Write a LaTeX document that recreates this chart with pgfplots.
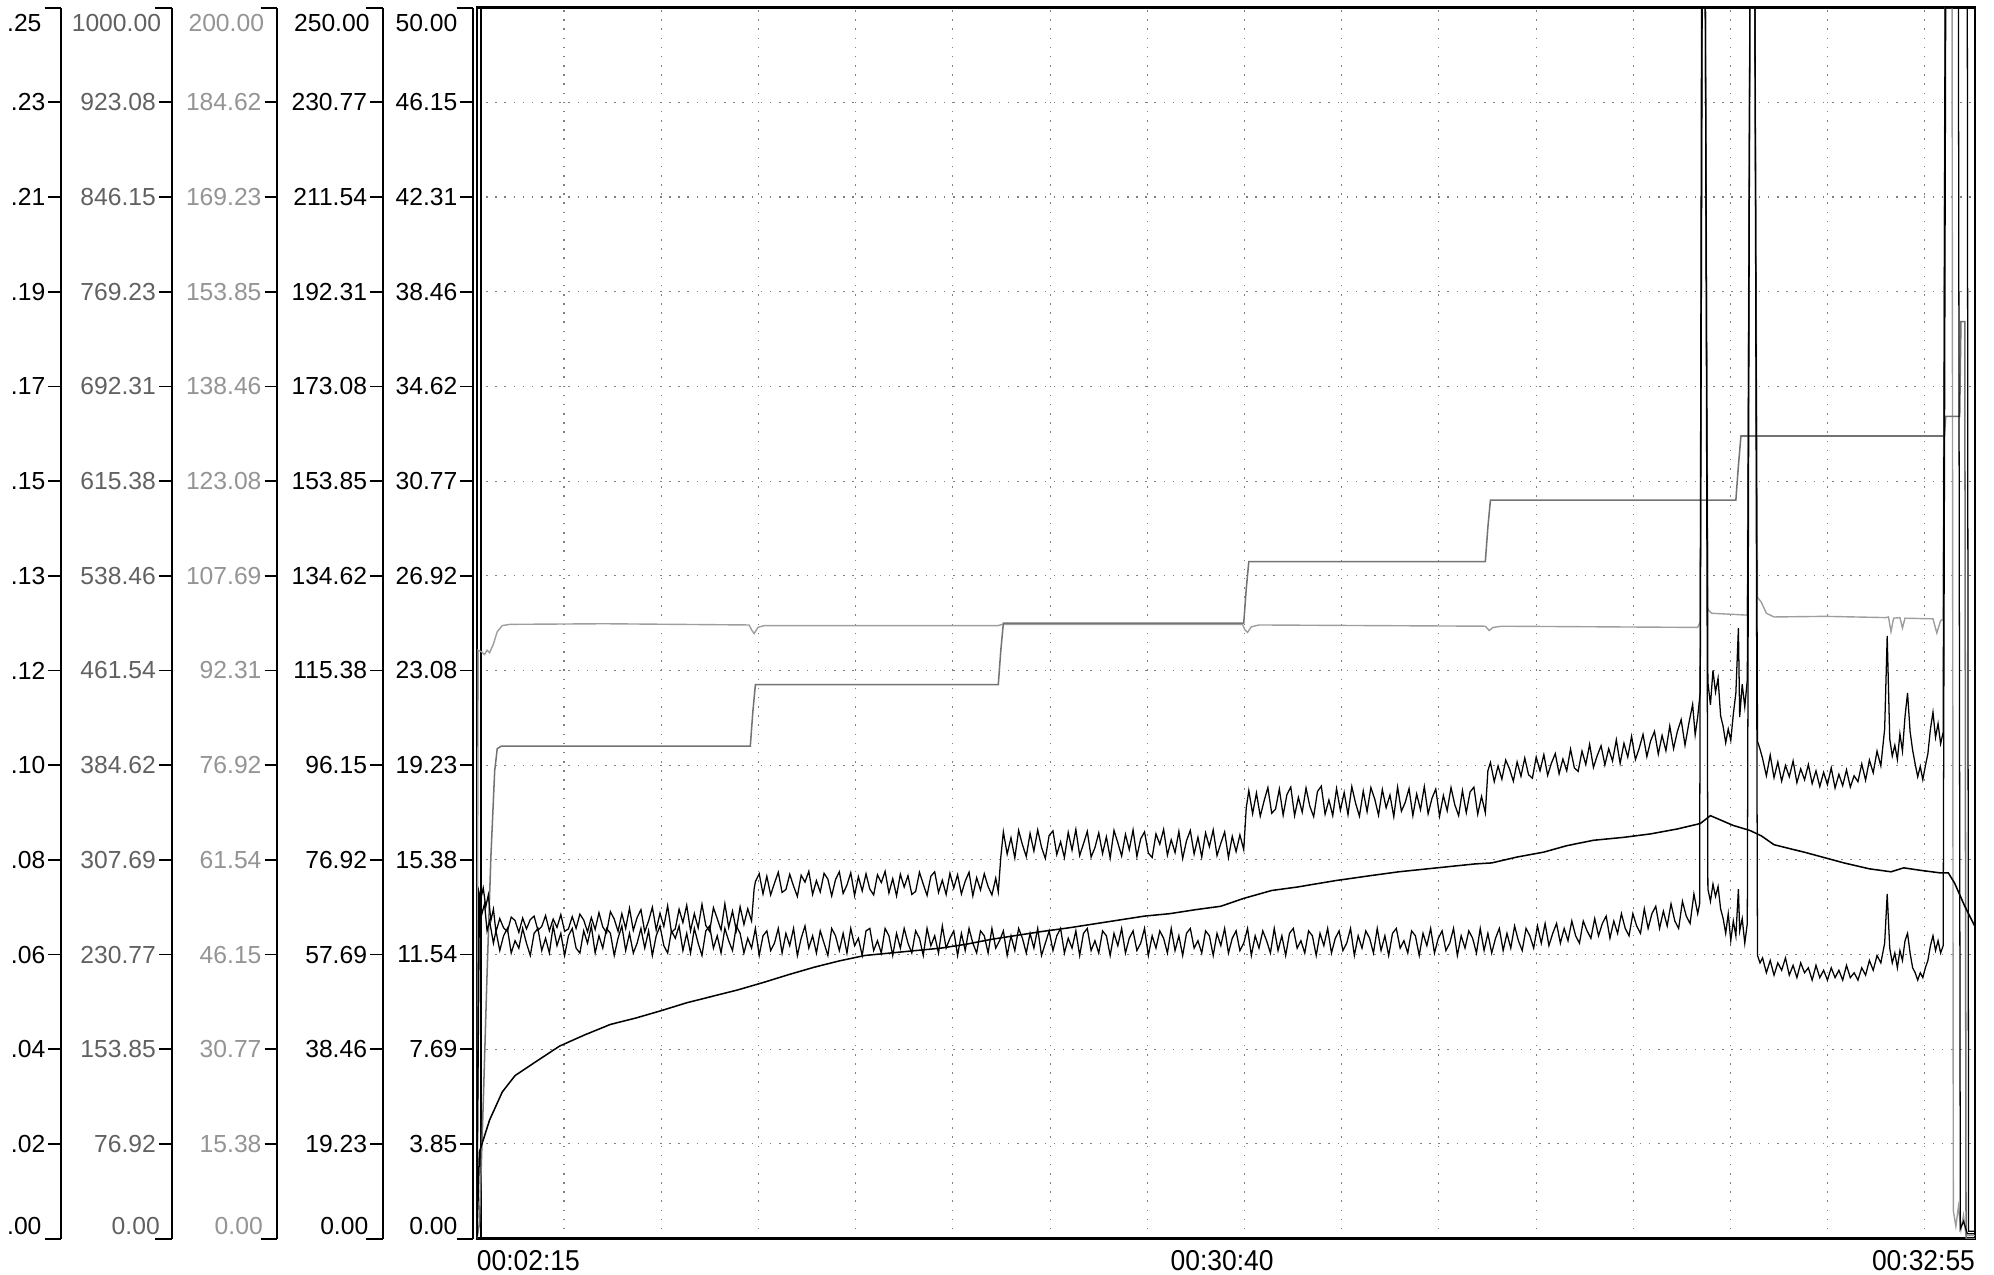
\documentclass[border=0pt]{standalone}
\usepackage{fontspec}
\setmainfont{Liberation Sans}
\usepackage{pgfplots}
\usepackage{pgfplotstable}
\pgfplotsset{compat=1.18}

\definecolor{trA}{gray}{0.45}
\definecolor{trB}{gray}{0.62}
\definecolor{lbA}{gray}{0.38}
\definecolor{lbB}{gray}{0.58}
\definecolor{gridc}{gray}{0.5}

\newcommand\lbl{\fontsize{9.7}{11}\selectfont}
\newcommand\tlbl{\fontsize{11.3}{13}\selectfont}
\newcommand\xl[1]{\scalebox{0.92}[1]{#1}}

% channel 2 (0-1000): stepped set point
\pgfplotstableread{
t v
0 0
2 12
5 110
8 215
11 310
14 380
16 398
19 400
215 400
217 428
219 450
410 450
412 478
414 500
603 500
605 528
607 550
793 550
795 578
797 600
990 600
992 628
994 652
1154 652
1155 668
1166 668
1167 745
1170 745
1171 0
1178 0
}\serA

% channel 3 (0-200)
\pgfplotstableread{
t v
0 1
1 95.6
4 95.3
6 94.9
8 95.6
10 95.2
13 96.6
16 98.6
20 99.6
26 99.8
100 99.9
214 99.7
216 98.9
218 98.3
221 99.3
226 99.6
410 99.6
413 99.8
602 99.8
604 98.9
606 98.5
609 99.4
615 99.7
793 99.5
796 98.8
799 99.3
806 99.5
960 99.3
962 100.2
963.5 200
966 200
968 102.2
971 101.6
990 101.4
999 101.3
1001 200
1005 200
1007 104.2
1010 103.4
1014 101.6
1020 101.0
1060 101.1
1108 100.9
1110 101.0
1112 98.6
1114 100.8
1119 100.9
1121 99.2
1123 100.8
1145 100.7
1148 98.4
1151 100.4
1153 100.6
1154.5 200
1160 200
1161 4.5
1163 2.0
1165 5.2
1167 1.5
1169 3.8
1171 0.5
1178 0.5
}\serB

% channel 4 (0-250)
\pgfplotstableread{
t v
0 3
1.5 70.5
3 68.9
5 71.2
7 67.4
9 69.8
11 64.6
13 66.9
15 62.3
18 65.0
21 63.1
24 62.4
27 65.3
30 64.6
33 62.2
36 65.1
39 62.9
42 64.8
45 65.5
48 62.6
51 63.4
54 65.6
57 62.5
60 64.9
63 63.2
66 65.8
69 62.4
72 62.9
75 65.4
78 63.0
81 65.9
84 64.7
87 62.3
90 65.2
93 62.8
96 66.2
99 63.3
102 62.1
105 66.4
108 64.9
111 62.4
114 66.0
117 63.0
120 67.1
123 62.6
126 65.2
129 66.8
132 62.3
135 64.5
138 67.3
141 62.7
144 66.1
147 63.4
150 67.6
153 62.2
156 62.9
159 66.9
162 64.2
165 67.7
168 62.5
171 66.0
174 63.1
177 67.9
180 63.6
183 62.4
186 67.2
189 65.0
192 62.7
195 68.0
198 63.2
201 66.5
204 62.6
207 67.4
210 63.8
213 67.0
216 64.5
218 71.0
219 72.5
222 74.1
225 70.0
228 73.6
231 69.8
234 72.2
237 74.4
240 70.3
243 70.9
246 74.0
249 71.6
252 69.5
255 73.8
258 72.4
261 74.6
264 69.9
267 72.7
270 70.4
273 74.2
276 73.0
279 69.6
282 72.9
285 74.5
288 70.1
291 71.8
294 74.3
297 69.7
300 73.5
303 70.6
306 74.1
309 71.0
312 69.8
315 73.9
318 72.3
321 74.6
324 70.2
327 73.1
330 69.6
333 74.0
336 71.4
339 73.7
342 69.9
345 70.5
348 74.4
351 72.0
354 69.7
357 73.6
360 74.5
363 70.3
366 72.8
369 69.9
372 74.2
375 71.2
378 73.9
381 70.0
384 72.6
387 74.4
390 69.6
393 73.3
396 70.8
399 74.1
402 71.5
405 69.8
408 73.2
410 70.4
412 77.5
414 82.6
417 78.1
420 81.4
423 77.3
426 82.9
429 80.0
432 77.6
435 82.3
438 78.7
441 83.0
444 79.5
447 77.2
450 81.9
453 82.8
456 78.0
459 80.6
462 77.4
465 82.5
468 78.9
471 83.1
474 77.8
477 80.2
480 82.7
483 77.5
486 79.4
489 82.4
492 78.2
495 81.6
498 77.3
501 82.9
504 80.4
507 77.7
510 82.1
513 79.0
516 83.0
519 77.6
522 81.2
525 82.6
528 78.3
531 77.4
534 82.2
537 80.1
540 83.1
543 77.9
546 81.0
549 78.4
552 82.7
555 77.2
558 80.8
561 82.9
564 78.1
567 81.5
570 77.5
573 82.4
576 79.6
579 83.0
582 77.8
585 80.3
588 82.6
591 77.4
594 81.7
597 78.6
600 82.0
603 79.0
605 87.5
607 91.0
610 86.3
613 90.5
616 85.8
619 88.9
622 91.6
625 86.4
628 87.2
631 91.3
634 86.0
637 90.2
640 91.7
643 85.9
646 89.6
649 86.6
652 91.5
655 87.8
658 85.7
661 90.8
664 91.9
667 86.2
670 89.1
673 85.9
676 91.4
679 87.0
682 90.6
685 86.1
688 91.8
691 88.4
694 85.8
697 90.9
700 86.7
703 91.6
706 89.3
709 86.0
712 91.2
715 87.5
718 90.1
721 85.7
724 91.7
727 86.8
730 88.6
733 91.4
736 85.9
739 90.3
742 87.1
745 91.8
748 86.3
751 89.4
754 91.3
757 85.8
760 90.0
763 86.9
766 91.6
769 88.1
772 85.9
775 91.0
778 86.5
781 90.7
784 91.7
787 86.2
790 89.8
793 86.5
795 95.0
797 96.7
800 92.8
803 96.0
806 93.3
809 97.2
812 95.4
815 92.9
818 96.8
821 93.9
824 97.6
827 94.2
830 93.5
833 97.8
836 95.0
839 98.3
842 94.1
845 96.6
848 98.5
851 94.4
854 97.4
857 95.0
860 99.4
863 95.6
866 94.9
869 99.0
872 96.3
875 100.4
878 95.7
881 98.1
884 100.1
887 96.2
890 99.5
893 97.0
896 101.3
899 96.5
902 100.6
905 97.8
908 102.0
911 97.3
914 99.6
917 102.4
920 97.9
923 101.1
926 103.0
929 98.4
932 102.2
935 99.1
938 104.1
941 99.5
944 103.0
947 105.4
950 100.2
953 104.6
956 108.5
958 102.3
960 106.0
962 111.0
963.5 250
966 250
968 113.0
970 108.4
972 115.4
974 111.0
976 113.8
978 106.2
980 104.0
982 100.7
984 103.5
986 101.2
988 106.5
990 110.8
992 124.0
993 105.9
995 112.6
997 108.0
999 113.5
1001 250
1005 250
1007 101.0
1009 99.4
1011 97.5
1014 94.0
1017 98.2
1020 93.6
1023 96.8
1026 92.9
1029 96.1
1032 93.8
1035 97.0
1038 92.6
1041 95.4
1044 93.2
1047 96.3
1050 92.4
1053 95.0
1056 91.8
1059 94.7
1062 92.2
1065 95.6
1068 91.5
1071 94.3
1074 92.0
1077 95.2
1080 91.7
1083 94.0
1086 92.8
1089 96.4
1092 93.1
1095 97.2
1098 94.6
1101 99.0
1104 96.0
1107 103.5
1109 122.4
1111 101.5
1113 98.0
1115 100.2
1117 97.3
1119 102.5
1121 99.0
1123 106.0
1125 110.8
1127 103.0
1129 99.2
1131 96.4
1133 93.8
1135 95.9
1137 93.2
1139 96.0
1141 98.5
1143 103.5
1145 106.9
1147 101.8
1149 104.6
1151 100.5
1153 102.8
1154.5 250
1165 250
1166.5 2.0
1169 3.5
1172 1.0
1178 1.0
}\serC

% channel 5 (0-50)
\pgfplotstableread{
t v
0 0.5
2 13.9
4 13.2
6 13.6
8 12.5
10 12.9
13 12.0
15 12.5
18 11.7
21 12.3
24 12.6
27 11.6
30 12.1
33 11.8
36 12.6
39 12.0
42 11.5
45 12.4
48 12.6
51 11.7
54 12.2
57 11.6
60 12.7
63 11.9
66 12.4
69 11.5
72 12.3
75 12.6
78 11.8
81 11.6
84 12.5
87 12.0
90 12.7
93 11.6
96 12.3
99 11.8
102 12.6
105 12.4
108 11.5
111 12.2
114 12.7
117 11.7
120 12.4
123 11.6
126 12.0
129 12.6
132 11.8
135 12.5
138 11.5
141 12.3
144 12.7
147 11.9
150 11.6
153 12.5
156 12.2
159 12.7
162 11.7
165 12.4
168 11.6
171 12.6
174 12.0
177 11.5
180 12.5
183 12.7
186 11.8
189 12.3
192 11.6
195 12.6
198 12.1
201 11.7
204 12.7
207 12.4
210 11.6
213 12.2
216 11.8
219 12.6
222 11.5
225 12.3
228 12.5
231 11.7
234 12.0
237 12.6
240 11.6
243 12.4
246 11.9
249 12.6
252 11.5
255 12.2
258 12.7
261 11.8
264 12.3
267 11.6
270 12.5
273 12.0
276 11.5
279 12.6
282 12.3
285 11.7
288 12.4
291 11.6
294 12.6
297 11.9
300 12.2
303 11.5
306 12.5
309 12.6
312 11.7
315 12.1
318 11.6
321 12.6
324 12.3
327 11.5
330 12.4
333 11.8
336 12.6
339 12.0
342 11.6
345 12.5
348 12.2
351 11.5
354 12.6
357 11.9
360 12.3
363 11.6
366 12.7
369 11.8
372 12.2
375 12.5
378 11.5
381 12.4
384 11.7
387 12.6
390 12.0
393 11.6
396 12.5
399 12.3
402 11.6
405 12.6
408 11.8
411 12.1
414 12.5
417 11.5
420 12.3
423 11.7
426 12.6
429 12.2
432 11.6
435 12.4
438 11.8
441 12.6
444 11.5
447 12.0
450 12.5
453 11.7
456 12.3
459 12.6
462 11.6
465 12.2
468 11.8
471 12.5
474 11.5
477 12.4
480 12.6
483 11.7
486 12.1
489 11.6
492 12.5
495 12.3
498 11.5
501 12.4
504 11.9
507 12.6
510 11.6
513 12.2
516 12.5
519 11.7
522 12.0
525 12.6
528 11.5
531 12.3
534 11.8
537 12.5
540 12.2
543 11.6
546 12.6
549 11.7
552 12.3
555 11.5
558 12.4
561 12.6
564 11.8
567 12.1
570 11.6
573 12.5
576 12.3
579 11.5
582 12.4
585 11.9
588 12.6
591 11.6
594 12.2
597 12.5
600 11.7
603 12.0
606 12.6
609 11.5
612 12.3
615 11.8
618 12.5
621 12.1
624 11.6
627 12.6
630 11.7
633 12.3
636 11.5
639 12.4
642 12.6
645 11.8
648 12.1
651 11.6
654 12.5
657 12.3
660 11.5
663 12.4
666 11.9
669 12.6
672 11.6
675 12.2
678 12.5
681 11.7
684 12.0
687 12.6
690 11.5
693 12.3
696 11.8
699 12.5
702 12.2
705 11.6
708 12.6
711 11.7
714 12.3
717 11.5
720 12.4
723 12.6
726 11.8
729 12.1
732 11.6
735 12.5
738 12.3
741 11.5
744 12.4
747 11.9
750 12.6
753 11.6
756 12.2
759 12.5
762 11.7
765 12.0
768 12.6
771 11.5
774 12.3
777 11.8
780 12.5
783 12.2
786 11.6
789 12.6
792 11.7
795 12.4
798 11.6
801 12.2
804 12.6
807 11.7
810 12.4
813 11.8
816 12.7
819 12.1
822 11.7
825 12.6
828 12.3
831 11.8
834 12.7
837 12.0
840 12.8
843 11.9
846 12.4
849 12.8
852 12.0
855 12.6
858 12.1
861 12.9
864 12.3
867 12.0
870 12.9
873 12.5
876 12.2
879 13.0
882 12.3
885 12.8
888 13.1
891 12.2
894 12.9
897 12.4
900 13.2
903 12.6
906 12.3
909 13.2
912 12.7
915 12.4
918 13.4
921 12.6
924 13.2
927 13.5
930 12.6
933 13.3
936 12.7
939 13.6
942 12.9
945 12.6
948 13.7
951 13.1
954 12.8
957 14.0
960 13.2
961.5 13.6
963 50
966 50
968 14.2
970 13.7
972 14.4
974 13.9
976 14.3
978 13.4
980 13.0
982 12.4
984 13.2
986 12.1
988 12.9
990 12.3
992 14.2
993 12.5
995 13.0
997 12.0
999 12.8
1001 50
1005 50
1007 11.5
1009 11.2
1011 11.4
1014 10.8
1017 11.3
1020 10.7
1023 11.2
1026 10.9
1029 11.4
1032 10.7
1035 11.1
1038 10.6
1041 11.2
1044 10.8
1047 11.0
1050 10.5
1053 11.1
1056 10.6
1059 10.9
1062 10.5
1065 11.0
1068 10.6
1071 10.9
1074 10.5
1077 11.1
1080 10.6
1083 10.8
1086 10.5
1089 11.0
1092 10.7
1095 11.3
1098 10.9
1101 11.5
1104 11.2
1107 12.0
1109 14.0
1111 11.8
1113 11.2
1115 11.6
1117 11.0
1119 11.7
1121 11.3
1123 12.1
1125 12.4
1127 11.6
1129 11.0
1131 10.8
1133 10.5
1135 10.8
1137 10.6
1139 11.0
1141 11.3
1143 11.9
1145 12.3
1147 11.7
1149 12.1
1151 11.6
1153 11.9
1155 50
1172 50
1173 0.3
1178 0.3
}\serD

% channel 1 (0-0.25)
\pgfplotstableread{
t v
0 0.0
2 0.0176
10 0.0241
20 0.0298
30 0.0331
45 0.0357
65 0.0391
85 0.0414
105 0.0435
125 0.0448
145 0.0463
165 0.0479
185 0.0492
205 0.0505
225 0.0520
245 0.0536
265 0.0551
285 0.0564
305 0.0575
325 0.0580
345 0.0585
365 0.0590
385 0.0598
405 0.0608
425 0.0616
445 0.0624
465 0.0631
485 0.0639
505 0.0647
525 0.0655
545 0.0660
565 0.0668
585 0.0675
603 0.0691
625 0.0707
645 0.0714
675 0.0727
705 0.0738
725 0.0745
755 0.0753
785 0.0761
798 0.0763
818 0.0775
839 0.0785
857 0.0798
878 0.0809
902 0.0815
923 0.0822
944 0.0832
962 0.0843
970 0.0859
988 0.0839
1001 0.0829
1010 0.0818
1020 0.0800
1045 0.0784
1075 0.0763
1095 0.0751
1112 0.0745
1122 0.0753
1135 0.0748
1150 0.0743
1157 0.0743
1162 0.0722
1170 0.0675
1178 0.0634
}\serE

\pgfplotsset{
  ruler/.style={
    scale only axis, width=1pt, height=484pt, anchor=south west,
    xmin=0, xmax=1, ymin=0, ymax=13,
    hide x axis,
    axis y line*=left,
    y axis line style={line width=0.9pt,-},
    ytick={1,...,12},
    tick align=outside,
    major tick length=5pt,
    ytick style={line width=0.7pt, black},
    yticklabel style={font=\lbl, anchor=east, inner sep=0pt, xshift=-1pt},
    extra y ticks={0,13},
    extra y tick labels={},
    extra y tick style={major tick length=6.5pt},
    clip=false,
  },
}

\begin{document}
\begin{tikzpicture}
\useasboundingbox (0,0) rectangle (784pt,501pt);

% scale rulers, one per channel
\begin{axis}[ruler, at={(24pt,14pt)},
  yticklabels={.02,.04,.06,.08,.10,.12,.13,.15,.17,.19,.21,.23}]
  \node[anchor=north east, inner sep=0pt, font=\lbl] at ([xshift=-7.5pt,yshift=-2.5pt]rel axis cs:0,1) {.25};
  \node[anchor=south east, inner sep=0pt, font=\lbl] at ([xshift=-7.5pt,yshift=1.5pt]rel axis cs:0,0) {.00};
\end{axis}

\begin{axis}[ruler, at={(67.5pt,14pt)}, yticklabel style={text=lbA},
  yticklabels={76.92,153.85,230.77,307.69,384.62,461.54,538.46,615.38,692.31,769.23,846.15,923.08}]
  \node[anchor=north east, inner sep=0pt, font=\lbl, text=lbA] at ([xshift=-4pt,yshift=-2.5pt]rel axis cs:0,1) {1000.00};
  \node[anchor=south east, inner sep=0pt, font=\lbl, text=lbA] at ([xshift=-4.5pt,yshift=1.5pt]rel axis cs:0,0) {0.00};
\end{axis}

\begin{axis}[ruler, at={(109pt,14pt)}, yticklabel style={text=lbB},
  yticklabels={15.38,30.77,46.15,61.54,76.92,92.31,107.69,123.08,138.46,153.85,169.23,184.62}]
  \node[anchor=north east, inner sep=0pt, font=\lbl, text=lbB] at ([xshift=-5pt,yshift=-2.5pt]rel axis cs:0,1) {200.00};
  \node[anchor=south east, inner sep=0pt, font=\lbl, text=lbB] at ([xshift=-5.5pt,yshift=1.5pt]rel axis cs:0,0) {0.00};
\end{axis}

\begin{axis}[ruler, at={(150.5pt,14pt)},
  yticklabels={19.23,38.46,57.69,76.92,96.15,115.38,134.62,153.85,173.08,192.31,211.54,230.77}]
  \node[anchor=north east, inner sep=0pt, font=\lbl] at ([xshift=-5pt,yshift=-2.5pt]rel axis cs:0,1) {250.00};
  \node[anchor=south east, inner sep=0pt, font=\lbl] at ([xshift=-5.5pt,yshift=1.5pt]rel axis cs:0,0) {0.00};
\end{axis}

\begin{axis}[ruler, at={(186pt,14pt)},
  yticklabels={3.85,7.69,11.54,15.38,19.23,23.08,26.92,30.77,34.62,38.46,42.31,46.15}]
  \node[anchor=north east, inner sep=0pt, font=\lbl] at ([xshift=-6pt,yshift=-2.5pt]rel axis cs:0,1) {50.00};
  \node[anchor=south east, inner sep=0pt, font=\lbl] at ([xshift=-6pt,yshift=1.5pt]rel axis cs:0,0) {0.00};
\end{axis}

% recorder trace area
\begin{axis}[name=main, at={(187.5pt,14pt)}, anchor=south west,
  scale only axis, width=589pt, height=484pt,
  xmin=0, xmax=1178, ymin=0, ymax=13,
  axis line style={line width=1pt},
  xtick={68.5,145,221.4,297.8,374.3,450.7,527.2,603.6,680,756.5,832.9,909.4,985.8,1062.2,1138.7},
  xticklabels={},
  ytick={1,...,12}, yticklabels={},
  major tick length=0pt,
  xmajorgrids, ymajorgrids,
  major grid style={gridc, line width=0.4pt, dash pattern=on 0.6pt off 3pt},
  extra x ticks={0,586,1178},
  extra x tick labels={\rlap{\xl{00:02:15}},\xl{00:30:40},\llap{\xl{00:32:55}}},
  extra x tick style={grid=none, major tick length=0pt},
  xticklabel style={font=\tlbl, anchor=north, inner sep=0pt, yshift=-4.5pt},
]
  \draw[line width=0.8pt] ([xshift=1.6pt]rel axis cs:0,0) -- ([xshift=1.6pt]rel axis cs:0,1);
  \addplot[trB, line width=0.55pt] table[x=t, y expr=\thisrow{v}*13/200] {\serB};
  \addplot[trA, line width=0.6pt] table[x=t, y expr=\thisrow{v}*13/1000] {\serA};
  \addplot[black, line width=0.5pt] table[x=t, y expr=\thisrow{v}*13/50] {\serD};
  \addplot[black, line width=0.5pt] table[x=t, y expr=\thisrow{v}*13/250] {\serC};
  \addplot[black, line width=0.6pt] table[x=t, y expr=\thisrow{v}*13/0.25] {\serE};
\end{axis}
\end{tikzpicture}
\end{document}
